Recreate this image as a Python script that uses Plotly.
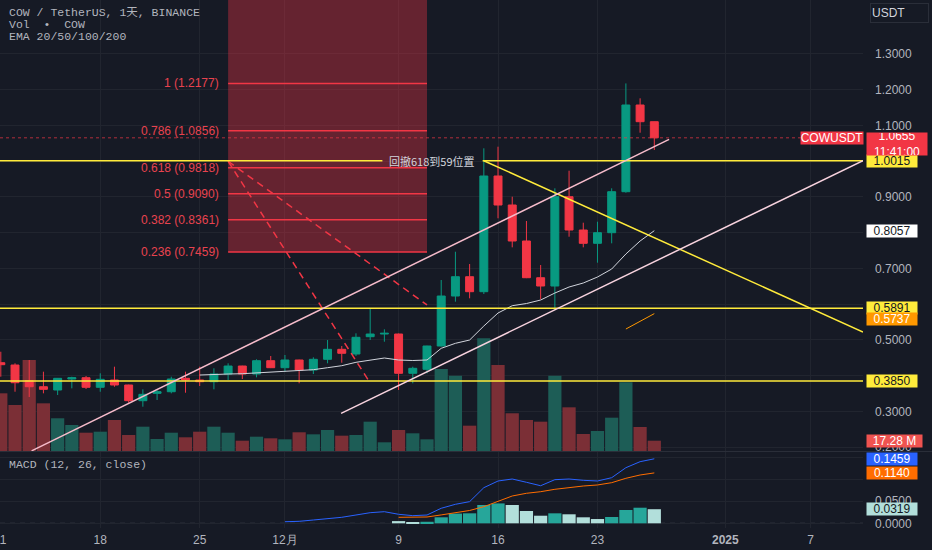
import pandas as pd
import plotly.graph_objects as go

# daily candles, 2024-11-11 .. 2024-12-27
dates = pd.date_range('2024-11-11', '2024-12-27', freq='D')

open_ = [0.4365, 0.4300, 0.3861, 0.3693, 0.3601, 0.3909, 0.3945, 0.3677, 0.3881, 0.3741,
         0.3302, 0.3508, 0.3553, 0.3928, 0.3881, 0.3833, 0.4048, 0.4272, 0.4048, 0.4421,
         0.4225, 0.4440, 0.4160, 0.4460, 0.4739, 0.4608, 0.5092, 0.5167, 0.5167, 0.4068,
         0.4180, 0.4832, 0.6230, 0.6770, 0.6351, 0.9587, 0.8776, 0.7769, 0.6742, 0.6510,
         0.9008, 0.8076, 0.7704, 0.8001, 0.9148, 1.1573, 1.1106]
high = [0.4672, 0.4348, 0.4440, 0.4113, 0.3937, 0.3973, 0.3993, 0.4068, 0.4253, 0.3750,
        0.3620, 0.3601, 0.3973, 0.4113, 0.4253, 0.4208, 0.4348, 0.4280, 0.4460, 0.4552,
        0.4580, 0.4450, 0.4516, 0.4999, 0.4832, 0.5187, 0.5886, 0.5299, 0.5180, 0.4253,
        0.4840, 0.6678, 0.7469, 0.7125, 1.0362, 1.0407, 0.9008, 0.8328, 0.7097, 0.9243,
        0.9735, 0.8281, 0.8309, 0.9243, 1.2177, 1.1760, 1.1110]
low = [0.3973, 0.3553, 0.3405, 0.3508, 0.3461, 0.3648, 0.3629, 0.3553, 0.3693, 0.3246,
       0.3134, 0.3321, 0.3508, 0.3525, 0.3713, 0.3620, 0.3881, 0.3909, 0.3956, 0.4215,
       0.4113, 0.3788, 0.4048, 0.4348, 0.4365, 0.4552, 0.4999, 0.4952, 0.3601, 0.3788,
       0.4068, 0.4820, 0.6071, 0.6166, 0.6286, 0.8404, 0.7592, 0.6730, 0.6138, 0.5839,
       0.7889, 0.7592, 0.7162, 0.7704, 0.9120, 1.0798, 1.0314]
close = [0.4309, 0.3805, 0.3693, 0.3620, 0.3928, 0.3945, 0.3677, 0.3900, 0.3741, 0.3302,
         0.3480, 0.3553, 0.3909, 0.3881, 0.3833, 0.4048, 0.4272, 0.4048, 0.4421, 0.4225,
         0.4440, 0.4160, 0.4460, 0.4739, 0.4628, 0.5075, 0.5167, 0.5187, 0.4068, 0.4208,
         0.4832, 0.6230, 0.6770, 0.6351, 0.9587, 0.8776, 0.7769, 0.6742, 0.6510, 0.9008,
         0.8076, 0.7704, 0.8001, 0.9148, 1.1573, 1.1106, 1.0655]
volume_m = [96.8, 77.2, 152.7, 80.0, 54.9, 43.6, 30.7, 32.4, 52.0, 26.8,
            40.8, 20.1, 30.7, 23.0, 32.4, 40.8, 30.7, 17.3, 24.0, 21.3,
            19.6, 31.4, 28.0, 35.2, 25.7, 26.8, 49.2, 14.6, 35.2, 29.7,
            19.6, 137.6, 126.4, 42.5, 189.1, 144.3, 63.3, 52.0, 49.2, 126.4,
            73.3, 28.5, 33.6, 55.9, 115.3, 40.3, 17.28]

# EMA 20 from 11-25, EMA 50 from 12-25
ema20 = [0.4020, 0.4040, 0.4048, 0.4057, 0.4076, 0.4113, 0.4132, 0.4141, 0.4169, 0.4225,
         0.4281, 0.4376, 0.4440, 0.4496, 0.4440, 0.4426, 0.4440, 0.4767, 0.4907, 0.4999,
         0.5391, 0.5755, 0.5959, 0.6020, 0.6118, 0.6314, 0.6482, 0.6594, 0.6762, 0.6985,
         0.7405, 0.7769, 0.8057]
ema50 = [0.5307, 0.5517, 0.5737]

# MACD (12, 26) from 12-01, signal and histogram from 12-09
macd = [0.0036, 0.0045, 0.0075, 0.0105, 0.0136, 0.0188, 0.0240, 0.0263, 0.0204, 0.0173,
        0.0188, 0.0340, 0.0430, 0.0490, 0.0806, 0.0957, 0.1002, 0.0928, 0.0850, 0.0987,
        0.1002, 0.0973, 0.0957, 0.1032, 0.1258, 0.1394, 0.1459]
signal = [0.0136, 0.0136, 0.0143, 0.0190, 0.0235, 0.0290, 0.0376, 0.0505, 0.0618, 0.0679,
          0.0715, 0.0769, 0.0814, 0.0844, 0.0867, 0.0919, 0.1018, 0.1093, 0.1140]
hist = [0.0050, 0.0030, 0.0035, 0.0136, 0.0220, 0.0226, 0.0414, 0.0450, 0.0414, 0.0278,
        0.0172, 0.0226, 0.0204, 0.0136, 0.0097, 0.0143, 0.0301, 0.0353, 0.0319]

# drawings (date, price)
fib_levels = [1, 0.786, 0.618, 0.5, 0.382, 0.236]
fib_prices = [1.2177, 1.0856, 0.9818, 0.9090, 0.8361, 0.7459]
fib_start, fib_end = '2024-11-27', '2024-12-11'
fib_dash_a = [('2024-11-27', 1.0), ('2024-12-06 22:00', 0.385)]
fib_dash_b = [('2024-11-27', 1.0), ('2024-12-11', 0.598)]
h_levels = [1.0015, 0.5891, 0.3850]
h_gap = ('2024-12-07 20:40', '2024-12-14 22:00')
yellow_diag = [('2024-12-15', 1.0015), ('2025-01-10 16:34', 0.5223)]
chan_upper = [('2024-11-13 04:00', 0.190), ('2024-12-28 01:00', 1.061)]
chan_lower = [('2024-12-04 22:50', 0.2949), ('2025-01-10 16:34', 1.0015)]
last_price = 1.0655

# first label sits on the left edge and is half cut off, drawn separately below
tick_dates = ['2024-11-11', '2024-11-18', '2024-11-25', '2024-12-01', '2024-12-09',
              '2024-12-16', '2024-12-23', '2025-01-01', '2025-01-07']
tick_text = ['', '18', '25', '12月', '9', '16', '23', '<b>2025</b>', '7']

price_ticks = [0.2, 0.3, 0.4, 0.5, 0.6, 0.7, 0.8, 0.9, 1.0, 1.1, 1.2, 1.3]
price_tick_text = ['0.2000', '0.3000', '', '0.5000', '', '0.7000', '', '0.9000', '',
                   '1.1000', '1.2000', '1.3000']
macd_ticks = [0, 0.05, 0.1, 0.15]
macd_tick_text = ['0.0000', '0.0500', '', '']

BG = '#161a25'
GRID = '#21252f'
TXT = '#b2b5be'
UP = '#089981'
DN = '#f23645'
YEL = '#ffeb3b'
PINK = '#f6bccb'
DAY = 86400000

x_start = '2024-11-10 22:38'
x_end = '2025-01-10 16:34'
main_lo = 1 - 451 / 528
macd_hi = (528 - 452) / 528

fig = go.Figure()

vol_colors = ['#1d5d56' if c >= o else '#7b2f36' for o, c in zip(open_, close)]
fig.add_trace(go.Bar(x=dates, y=volume_m, marker_color=vol_colors, marker_line_width=0,
                     width=0.93 * DAY, xaxis='x', yaxis='y', hoverinfo='skip'))

fig.add_trace(go.Candlestick(
    x=dates, open=open_, high=high, low=low, close=close,
    increasing=dict(line=dict(color=UP, width=1), fillcolor=UP),
    decreasing=dict(line=dict(color=DN, width=1), fillcolor=DN),
    whiskerwidth=0, xaxis='x', yaxis='y2'))

fig.add_trace(go.Scatter(x=dates[14:], y=ema20, mode='lines',
                         line=dict(color='#d1d4dc', width=1), xaxis='x', yaxis='y2'))
fig.add_trace(go.Scatter(x=dates[-3:], y=ema50, mode='lines',
                         line=dict(color='#ff9800', width=1), xaxis='x', yaxis='y2'))

hist_colors = []
prev = None
for h in hist:
    hist_colors.append('#26a69a' if prev is not None and h >= prev else '#b2dfdb')
    prev = h
fig.add_trace(go.Bar(x=dates[28:], y=hist, marker_color=hist_colors, marker_line_width=0,
                     width=0.93 * DAY, xaxis='x2', yaxis='y3'))
fig.add_trace(go.Scatter(x=dates[20:], y=macd, mode='lines',
                         line=dict(color='#2962ff', width=1), xaxis='x2', yaxis='y3'))
fig.add_trace(go.Scatter(x=dates[28:], y=signal, mode='lines',
                         line=dict(color='#ff6d00', width=1), xaxis='x2', yaxis='y3'))

shapes = []


def seg(p0, p1, color, width=1.5, dash='solid', yref='y2'):
    return dict(type='line', xref='x', yref=yref, x0=p0[0], y0=p0[1], x1=p1[0], y1=p1[1],
                line=dict(color=color, width=width, dash=dash), layer='above')


# fib box and levels
shapes.append(dict(type='rect', xref='x', yref='y2', x0=fib_start, x1=fib_end,
                   y0=fib_prices[-1], y1=1.6, fillcolor='rgba(242,54,69,0.36)',
                   line=dict(width=0), layer='above'))
for p in fib_prices:
    shapes.append(seg((fib_start, p), (fib_end, p), DN))
shapes.append(seg(*fib_dash_a, DN, dash='7px,5px'))
shapes.append(seg(*fib_dash_b, DN, dash='7px,5px'))

# horizontal levels
shapes.append(seg((x_start, h_levels[0]), (h_gap[0], h_levels[0]), YEL))
shapes.append(seg((h_gap[1], h_levels[0]), (x_end, h_levels[0]), YEL))
for p in h_levels[1:]:
    shapes.append(seg((x_start, p), (x_end, p), YEL))
shapes.append(seg(*yellow_diag, YEL))

# channel
shapes.append(seg(*chan_upper, PINK))
shapes.append(seg(*chan_lower, '#f8d3df'))

# last price dotted line
shapes.append(seg((x_start, last_price), (x_end, last_price), 'rgba(242,54,69,0.7)',
                  width=1, dash='dot'))

# macd zero line
shapes.append(dict(type='line', xref='x2', yref='y3', x0=x_start, x1=x_end, y0=0, y1=0,
                   line=dict(color='#4b4f5b', width=1, dash='5px,5px'), layer='below'))
# pane separator
shapes.append(dict(type='line', xref='paper', yref='paper', x0=0, x1=1.1,
                   y0=(528 - 451.5) / 528, y1=(528 - 451.5) / 528,
                   line=dict(color='#2a2e39', width=1)))

ann = []
legend_font = dict(family='Liberation Mono, Noto Sans CJK SC', size=11.5, color=TXT)
for i, t in enumerate(['COW / TetherUS, 1天, BINANCE', 'Vol  •  COW', 'EMA 20/50/100/200']):
    ann.append(dict(xref='paper', yref='paper', x=0, y=1, xanchor='left', yanchor='middle',
                    xshift=7, yshift=-12 - 12 * i, text=t, showarrow=False, font=legend_font))
ann.append(dict(xref='paper', yref='y3 domain', x=0, y=1, xanchor='left', yanchor='middle',
                xshift=7, yshift=-12, text='MACD (12, 26, close)', showarrow=False,
                font=legend_font))

ann.append(dict(xref='x2', yref='paper', x=tick_dates[0], y=0, xanchor='center',
                yanchor='middle', yshift=-12, text='11', showarrow=False,
                font=dict(family='Liberation Sans', size=12, color=TXT)))

for lv, p in zip(fib_levels, fib_prices):
    ann.append(dict(xref='x', yref='y2', x=fib_start, y=p, xanchor='right', yanchor='middle',
                    xshift=-7, text=f'{lv} ({p:.4f})', showarrow=False,
                    font=dict(family='Liberation Sans', size=12, color='#e8434f')))

ann.append(dict(xref='paper', yref='y2', x=0.5, y=h_levels[0], xanchor='center',
                yanchor='middle', text='回撤618到59位置', showarrow=False,
                font=dict(family='Noto Sans CJK SC', size=11, color='#d1d4dc')))


def tag(text, y, yref, bg, fg, yshift=0, width=50, height=12):
    return dict(xref='paper', x=1, xanchor='left', xshift=3, yref=yref, y=y,
                yanchor='middle', yshift=yshift, text=text, showarrow=False, bgcolor=bg,
                font=dict(family='Liberation Sans', size=12, color=fg),
                width=width, height=height, borderpad=0, align='center')


ann.append(tag('1.0015', 1.0015, 'y2', YEL, '#131722'))
ann.append(tag('0.8057', ema20[-1], 'y2', '#ffffff', '#131722'))
ann.append(tag('0.5891', 0.5891, 'y2', YEL, '#131722'))
ann.append(tag('0.5737', ema50[-1], 'y2', '#ff9800', '#ffffff', yshift=-5))
ann.append(tag('0.3850', 0.3850, 'y2', YEL, '#131722'))
ann.append(tag('17.28 M', volume_m[-1], 'y', '#ef5350', '#ffffff', width=55))
ann.append(tag('0.1459', macd[-1], 'y3', '#2962ff', '#ffffff'))
ann.append(tag('0.1140', signal[-1], 'y3', '#ff6d00', '#ffffff'))
ann.append(tag('0.0319', hist[-1], 'y3', '#b2dfdb', '#131722'))
ann.append(dict(xref='paper', x=1, xanchor='left', xshift=3, yref='y2', y=last_price,
                yanchor='top', yshift=6, text='1.0655<br>11:41:00', showarrow=False,
                bgcolor=DN, font=dict(family='Liberation Sans', size=12, color='#ffffff'),
                width=60, height=22, borderpad=0, align='center'))
ann.append(dict(xref='paper', x=1, xanchor='right', xshift=1, yref='y2', y=last_price,
                yanchor='middle', text='COWUSDT', showarrow=False, bgcolor=DN,
                font=dict(family='Liberation Sans', size=12, color='#ffffff'),
                width=62, height=12, borderpad=0))
ann.append(dict(xref='paper', x=1, xanchor='left', xshift=7, yref='paper', y=1,
                yanchor='top', yshift=-3, text='USDT', showarrow=False, bgcolor=BG,
                bordercolor='#2a2e39', borderwidth=1, width=55, height=16,
                font=dict(family='Liberation Sans', size=12, color='#d1d4dc'), align='left'))

fig.update_layout(
    width=932, height=550, margin=dict(l=0, r=69, t=0, b=22),
    paper_bgcolor=BG, plot_bgcolor=BG, showlegend=False, boxgap=0.2,
    font=dict(family='Liberation Sans', color=TXT, size=12),
    shapes=shapes, annotations=ann,
    xaxis=dict(type='date', range=[x_start, x_end], anchor='y', showticklabels=False,
               tickvals=tick_dates, showgrid=True, gridcolor=GRID, zeroline=False,
               rangeslider=dict(visible=False)),
    xaxis2=dict(type='date', range=[x_start, x_end], matches='x', anchor='y3',
                tickvals=tick_dates, ticktext=tick_text, showgrid=True, gridcolor=GRID,
                zeroline=False, ticks='', tickfont=dict(size=12, color=TXT),
                ticklabelstandoff=3, rangeslider=dict(visible=False)),
    yaxis=dict(domain=[main_lo, 1], range=[0, 756.6], visible=False),
    yaxis2=dict(domain=[main_lo, 1], overlaying='y', anchor='x', side='right',
                range=[0.1895, 1.451], tickvals=price_ticks, ticktext=price_tick_text,
                showgrid=True, gridcolor=GRID, zeroline=False, ticklabelstandoff=11,
                tickfont=dict(size=12, color=TXT)),
    yaxis3=dict(domain=[0, macd_hi], anchor='x2', side='right', range=[-0.0106, 0.1613],
                tickvals=macd_ticks, ticktext=macd_tick_text, showgrid=True,
                gridcolor=GRID, zeroline=False, ticklabelstandoff=11,
                tickfont=dict(size=12, color=TXT)),
)

# the page has a default 8px body margin; drop it so the figure sits at 0,0
fig.write_html("out.html", config={'displayModeBar': False},
               post_script="document.body.style.margin='0';")
